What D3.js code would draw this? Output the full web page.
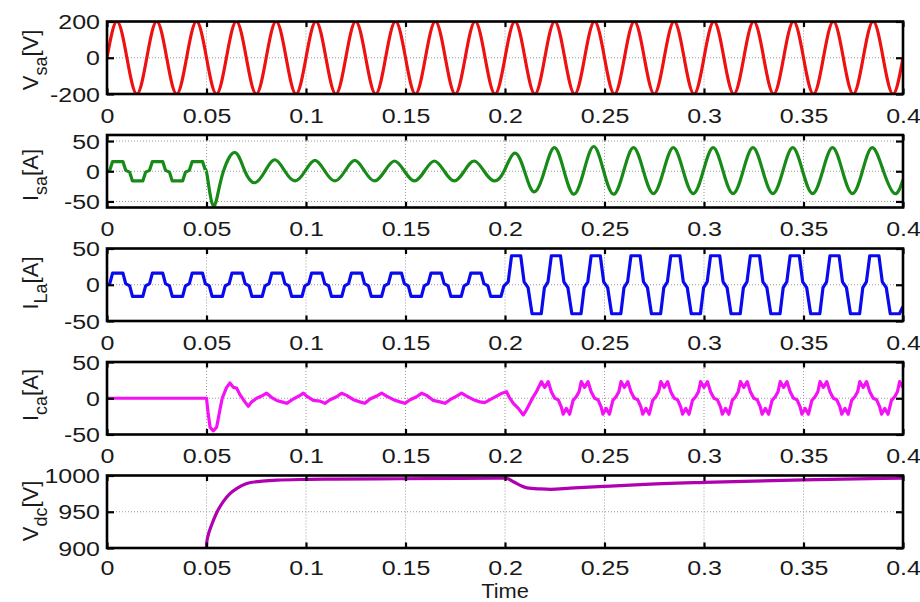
<!DOCTYPE html>
<html>

<head>
    <meta charset="utf-8">
    <style>
        body {
            margin: 0;
            background: #fff;
        }

        svg {
            display: block;
            font-family: Arial, 'Liberation Sans', Helvetica, sans-serif;
        }

        .tick text {
            font-family: Arial, 'Liberation Sans', Helvetica, sans-serif;
            font-size: 20px;
            fill: #1a1a1a;
        }

        .tick line {
            stroke: #000;
            stroke-width: 2.2;
        }

        .grid line {
            stroke: #9a9a9a;
            stroke-width: 1;
            stroke-dasharray: 1, 2;
        }

        .frame {
            fill: none;
            stroke: #000;
            stroke-width: 2.6;
        }

        .ylabel,
        .xlabel {
            font-size: 22px;
            fill: #1a1a1a;
        }

        .trace {
            fill: none;
            stroke-width: 3.2;
            stroke-linejoin: round;
        }
    </style>
</head>

<body>
    <svg width="920" height="602"></svg>

    <script src="https://d3js.org/d3.v7.min.js"></script>

    <script>
        // all times in ms
        let xTicks = [0, 0.05, 0.1, 0.15, 0.2, 0.25, 0.3, 0.35, 0.4];
        let xTickLabels = ["0", "0.05", "0.1", "0.15", "0.2", "0.25", "0.3", "0.35", "0.4"];

        let vsaRange = [-200, 200];
        let vsaTicks = [-200, 0, 200];
        let vsaTickLabels = ["-200", "0", "200"];

        let isaRange = [-60, 60];
        let isaTicks = [-50, 0, 50];
        let isaTickLabels = ["-50", "0", "50"];

        let ilaRange = [-50, 50];
        let ilaTicks = [-50, 0, 50];
        let ilaTickLabels = ["-50", "0", "50"];

        let icaRange = [-50, 50];
        let icaTicks = [-50, 0, 50];
        let icaTickLabels = ["-50", "0", "50"];

        let vdcRange = [900, 1000];
        let vdcTicks = [900, 950, 1000];
        let vdcTickLabels = ["900", "950", "1000"];

        // source voltage: zero crossings and peaks
        let vsa = [[0, 0], [5, 200], [10, 0], [15, -200], [20, 0], [25, 200], [30, 0], [35, -200], [40, 0], [45, 200],
        [50, 0], [55, -200], [60, 0], [65, 200], [70, 0], [75, -200], [80, 0], [85, 200], [90, 0], [95, -200],
        [100, 0], [105, 200], [110, 0], [115, -200], [120, 0], [125, 200], [130, 0], [135, -200], [140, 0], [145, 200],
        [150, 0], [155, -200], [160, 0], [165, 200], [170, 0], [175, -200], [180, 0], [185, 200], [190, 0], [195, -200],
        [200, 0], [205, 200], [210, 0], [215, -200], [220, 0], [225, 200], [230, 0], [235, -200], [240, 0], [245, 200],
        [250, 0], [255, -200], [260, 0], [265, 200], [270, 0], [275, -200], [280, 0], [285, 200], [290, 0], [295, -200],
        [300, 0], [305, 200], [310, 0], [315, -200], [320, 0], [325, 200], [330, 0], [335, -200], [340, 0], [345, 200],
        [350, 0], [355, -200], [360, 0], [365, 200], [370, 0], [375, -200], [380, 0], [385, 200], [390, 0], [395, -200],
        [400, 0]];

        // source current before compensation (stepped, same as load)
        let isaStep = [[0, 0], [1.4, 1.5], [2.8, 16], [8, 16], [9.4, 1.5], [11.4, -1.5], [12.8, -16], [18, -16], [19.4, -1.5],
        [21.4, 1.5], [22.8, 16], [28, 16], [29.4, 1.5], [31.4, -1.5], [32.8, -16], [38, -16], [39.4, -1.5],
        [41.4, 1.5], [42.8, 16], [48, 16], [49.4, 2]];

        // source current after compensation: peaks and zero crossings
        let isaWave = [[49.4, 2], [50.2, -4], [51.8, -38], [53.4, -57], [55.2, -45], [58.5, 0], [64.3, 31], [69.3, 0],
        [74.4, -19], [79.4, 0], [84.4, 19], [89.4, 0], [94.5, -16], [99.5, 0], [104.5, 18], [109.5, 0],
        [114.5, -16], [119.5, 0], [124.5, 18], [129.5, 0], [134.5, -16], [139.5, 0], [144.5, 17], [149.5, 0],
        [154.5, -16], [159.5, 0], [164.5, 17], [169.5, 0], [174.5, -16], [179.5, 0], [184.5, 17], [189.5, 0],
        [194.5, -16], [199.5, 0], [204.8, 30], [209.8, 0], [214.6, -34], [219.8, 0], [224.8, 39], [229.7, 0],
        [234.6, -38], [239.6, 0], [244.6, 41], [249.6, 0], [254.6, -38], [259.6, 0], [264.6, 39], [269.6, 0],
        [274.6, -37], [279.6, 0], [284.6, 39], [289.6, 0], [294.6, -37], [299.6, 0], [304.6, 39], [309.6, 0],
        [314.6, -37], [319.6, 0], [324.6, 39], [329.6, 0], [334.6, -37], [339.6, 0], [344.6, 39], [349.6, 0],
        [354.6, -37], [359.6, 0], [364.6, 39], [369.6, 0], [374.6, -37], [379.6, 0], [384.6, 39], [390.2, 0],
        [395.8, -37], [400, -14]];

        // load current
        let ila = [[0, 0], [1.4, 1.5], [2.8, 16], [8, 16], [9.4, 1.5], [11.4, -1.5], [12.8, -16], [18, -16], [19.4, -1.5],
        [21.4, 1.5], [22.8, 16], [28, 16], [29.4, 1.5], [31.4, -1.5], [32.8, -16], [38, -16], [39.4, -1.5],
        [41.4, 1.5], [42.8, 16], [48, 16], [49.4, 1.5], [51.4, -1.5], [52.8, -16], [58, -16], [59.4, -1.5],
        [61.4, 1.5], [62.8, 16], [68, 16], [69.4, 1.5], [71.4, -1.5], [72.8, -16], [78, -16], [79.4, -1.5],
        [81.4, 1.5], [82.8, 16], [88, 16], [89.4, 1.5], [91.4, -1.5], [92.8, -16], [98, -16], [99.4, -1.5],
        [101.4, 1.5], [102.8, 16], [108, 16], [109.4, 1.5], [111.4, -1.5], [112.8, -16], [118, -16], [119.4, -1.5],
        [121.4, 1.5], [122.8, 16], [128, 16], [129.4, 1.5], [131.4, -1.5], [132.8, -16], [138, -16], [139.4, -1.5],
        [141.4, 1.5], [142.8, 16], [148, 16], [149.4, 1.5], [151.4, -1.5], [152.8, -16], [158, -16], [159.4, -1.5],
        [161.4, 1.5], [162.8, 16], [168, 16], [169.4, 1.5], [171.4, -1.5], [172.8, -16], [178, -16], [179.4, -1.5],
        [181.4, 1.5], [182.8, 16], [188, 16], [189.4, 1.5], [191.4, -1.5], [192.8, -16], [198, -16], [199.4, -2],
        [201.6, 4], [203.3, 40], [207.9, 40], [209.6, 4], [211.6, -4], [213.6, -40], [218.2, -40], [219.8, -4],
        [221.6, 4], [223.3, 40], [227.9, 40], [229.6, 4], [231.6, -4], [233.6, -40], [238.2, -40], [239.8, -4],
        [241.6, 4], [243.3, 40], [247.9, 40], [249.6, 4], [251.6, -4], [253.6, -40], [258.2, -40], [259.8, -4],
        [261.6, 4], [263.3, 40], [267.9, 40], [269.6, 4], [271.6, -4], [273.6, -40], [278.2, -40], [279.8, -4],
        [281.6, 4], [283.3, 40], [287.9, 40], [289.6, 4], [291.6, -4], [293.6, -40], [298.2, -40], [299.8, -4],
        [301.6, 4], [303.3, 40], [307.9, 40], [309.6, 4], [311.6, -4], [313.6, -40], [318.2, -40], [319.8, -4],
        [321.6, 4], [323.3, 40], [327.9, 40], [329.6, 4], [331.6, -4], [333.6, -40], [338.2, -40], [339.8, -4],
        [341.6, 4], [343.3, 40], [347.9, 40], [349.6, 4], [351.6, -4], [353.6, -40], [358.2, -40], [359.8, -4],
        [361.6, 4], [363.3, 40], [367.9, 40], [369.6, 4], [371.6, -4], [373.6, -40], [378.2, -40], [379.8, -4],
        [381.6, 4], [383.3, 40], [387.9, 40], [389.6, 4], [391.6, -4], [393.6, -40], [398.2, -40], [400, -30]];

        // compensating current
        let ica = [[0, 0], [50, 0], [50.8, -20], [51.8, -40], [53.4, -45], [55.1, -40], [56.8, -15], [57.9, 0],
        [60.1, 15], [61.8, 21], [63.5, 15], [65.1, 14], [66.8, 5], [69.3, -5], [71.0, -11], [72.7, -5],
        [75.2, 0], [77.7, 3], [80.2, 7], [82.8, 1], [85.3, -3], [87.8, -5], [90.3, -7], [93.6, -1],
        [97.0, 4], [98.7, 7], [100.3, 3], [103.7, -3], [107.0, -4], [109.5, -7], [112.1, -2], [115.4, 2],
        [117.9, 7], [120.4, 4], [123.8, -2], [127.1, -5], [129.6, -7], [132.2, -1], [135.5, 3], [138.0, 7],
        [140.5, 3], [143.9, -2], [147.2, -5], [149.7, -7], [152.3, -2], [155.6, 2], [158.1, 7], [160.6, 4],
        [164.0, -3], [167.3, -5], [169.8, -7], [172.4, -2], [175.7, 3], [178.2, 7], [180.7, 3], [184.1, -2],
        [187.4, -5], [189.8, -6], [192.5, -2], [195.8, 3], [198.5, 7], [200.8, 9], [202.0, 2], [204.2, -7],
        [206.7, -14], [209.2, -23], [210.8, -16], [212.5, -7], [214.2, 2], [215.8, 9], [218.3, 23], [220, 15], [221.7, 23],
        [223.3, 9], [225, 0], [226.7, -2], [228.3, -12], [229.2, -22], [230.8, -14], [232.5, -22], [234.2, -3], [235.8, 2], [237.2, 9], [238.3, 23], [240, 15], [241.7, 23],
        [243.3, 9], [245, 0], [246.7, -2], [248.3, -12], [249.2, -22], [250.8, -14], [252.5, -22], [254.2, -3], [255.8, 2], [257.2, 9], [258.3, 23], [260, 15], [261.7, 23],
        [263.3, 9], [265, 0], [266.7, -2], [268.3, -12], [269.2, -22], [270.8, -14], [272.5, -22], [274.2, -3], [275.8, 2], [277.2, 9], [278.3, 23], [280, 15], [281.7, 23],
        [283.3, 9], [285, 0], [286.7, -2], [288.3, -12], [289.2, -22], [290.8, -14], [292.5, -22], [294.2, -3], [295.8, 2], [297.2, 9], [298.3, 23], [300, 15], [301.7, 23],
        [303.3, 9], [305, 0], [306.7, -2], [308.3, -12], [309.2, -22], [310.8, -14], [312.5, -22], [314.2, -3], [315.8, 2], [317.2, 9], [318.3, 23], [320, 15], [321.7, 23],
        [323.3, 9], [325, 0], [326.7, -2], [328.3, -12], [329.2, -22], [330.8, -14], [332.5, -22], [334.2, -3], [335.8, 2], [337.2, 9], [338.3, 23], [340, 15], [341.7, 23],
        [343.3, 9], [345, 0], [346.7, -2], [348.3, -12], [349.2, -22], [350.8, -14], [352.5, -22], [354.2, -3], [355.8, 2], [357.2, 9], [358.3, 23], [360, 15], [361.7, 23],
        [363.3, 9], [365, 0], [366.7, -2], [368.3, -12], [369.2, -22], [370.8, -14], [372.5, -22], [374.2, -3], [375.8, 2], [377.2, 9], [378.3, 23], [380, 15], [381.7, 23],
        [383.3, 9], [385, 0], [386.7, -2], [388.3, -12], [389.2, -22], [390.8, -14], [392.5, -22], [394.2, -3], [395.8, 2], [397.2, 9], [398.3, 23], [400, 15]];

        // dc-link voltage
        let vdc = [[49.8, 890], [50.1, 907], [50.9, 918], [52.6, 932], [55.0, 948], [58.4, 964], [61.8, 975],
        [65.1, 982], [70.2, 989], [76.9, 992], [85.3, 993.5], [97, 994.5], [113.7, 995], [147, 995.5],
        [177, 996], [200, 996.4], [201.5, 995.5], [204.5, 991], [207.9, 986], [211, 983], [217.8, 981.5],
        [222.8, 981], [232.8, 982.5], [249.6, 985], [268, 987.5], [300, 990.5], [350, 994], [400, 996.5]];

        let panels = [
            { name: "V", sub: "sa", unit: "[V]", range: vsaRange, ticks: vsaTicks, labels: vsaTickLabels, color: "#ee1111",
              series: [{ data: vsa, curve: d3.curveNatural }] },
            { name: "I", sub: "sa", unit: "[A]", range: isaRange, ticks: isaTicks, labels: isaTickLabels, color: "#178a17",
              series: [{ data: isaStep, curve: d3.curveLinear }, { data: isaWave, curve: d3.curveNatural }] },
            { name: "I", sub: "La", unit: "[A]", range: ilaRange, ticks: ilaTicks, labels: ilaTickLabels, color: "#0a0aee",
              series: [{ data: ila, curve: d3.curveLinear }] },
            { name: "I", sub: "ca", unit: "[A]", range: icaRange, ticks: icaTicks, labels: icaTickLabels, color: "#f511f5",
              series: [{ data: ica, curve: d3.curveLinear }] },
            { name: "V", sub: "dc", unit: "[V]", range: vdcRange, ticks: vdcTicks, labels: vdcTickLabels, color: "#b000b0",
              series: [{ data: vdc, curve: d3.curveMonotoneX }] }
        ];

        let left = 107, right = 903;
        let panelTop = [21.5, 135, 248.5, 362, 475.5];
        let panelH = 72.5;
        let labelMid = [60, 175, 283, 395, 511];
        // the last panel's labels sit a little higher so "Time" fits below
        let xLabelDrop = [29, 29, 29, 29, 27.5];

        let svg = d3.select("svg");

        let x = d3.scaleLinear()
            .domain([0, 0.4])
            .range([left, right]);

        panels.forEach(function (p, i) {
            let top = panelTop[i];
            let y = d3.scaleLinear()
                .domain(p.range)
                .range([top + panelH, top]);

            let g = svg.append("g").attr("class", "panel");

            svg.append("clipPath")
                .attr("id", "clip" + i)
                .append("rect")
                .attr("x", left)
                .attr("y", top)
                .attr("width", right - left)
                .attr("height", panelH);

            // dotted grid
            g.append("g").attr("class", "grid")
                .selectAll("line")
                .data(xTicks.slice(1, -1))
                .join("line")
                .attr("x1", d => x(d)).attr("x2", d => x(d))
                .attr("y1", top).attr("y2", top + panelH);

            g.append("g").attr("class", "grid")
                .selectAll("line")
                .data(p.ticks.filter(v => v > p.range[0] && v < p.range[1]))
                .join("line")
                .attr("x1", left).attr("x2", right)
                .attr("y1", d => y(d)).attr("y2", d => y(d));

            p.series.forEach(function (s) {
                let line = d3.line()
                    .x(d => x(d[0] / 1000))
                    .y(d => y(d[1]))
                    .curve(s.curve);
                g.append("path")
                    .attr("class", "trace")
                    .attr("clip-path", "url(#clip" + i + ")")
                    .attr("stroke", p.color)
                    .attr("d", line(s.data));
            });

            g.append("rect")
                .attr("class", "frame")
                .attr("x", left)
                .attr("y", top)
                .attr("width", right - left)
                .attr("height", panelH);

            // ticks point inwards, like matlab
            g.append("g")
                .attr("class", "x axis")
                .attr("transform", `translate(0,${top + panelH})`)
                .call(d3.axisBottom(x).tickValues(xTicks).tickSize(-5.5).tickFormat((d, k) => xTickLabels[k]))
                .call(a => a.select(".domain").remove())
                .call(a => a.selectAll("text")
                    .attr("y", xLabelDrop[i])
                    .attr("dy", null)
                    .attr("transform", "scale(1.25,1)"));

            g.append("g")
                .attr("class", "x axis")
                .attr("transform", `translate(0,${top})`)
                .call(d3.axisTop(x).tickValues(xTicks).tickSize(-5.5).tickFormat(""))
                .call(a => a.select(".domain").remove());

            g.append("g")
                .attr("class", "y axis")
                .attr("transform", `translate(${left},0)`)
                .call(d3.axisLeft(y).tickValues(p.ticks).tickSize(-7).tickFormat((d, k) => p.labels[k]))
                .call(a => a.select(".domain").remove())
                .call(a => a.selectAll("text")
                    .attr("x", -5.6)
                    .attr("dy", "0.35em")
                    .attr("transform", "scale(1.25,1)"));

            g.append("g")
                .attr("class", "y axis")
                .attr("transform", `translate(${right},0)`)
                .call(d3.axisRight(y).tickValues(p.ticks).tickSize(-7).tickFormat(""))
                .call(a => a.select(".domain").remove());

            let lab = svg.append("text")
                .attr("class", "ylabel")
                .attr("text-anchor", "middle")
                .attr("transform", `translate(37.5,${labelMid[i]}) rotate(-90)`);
            lab.append("tspan").text(p.name);
            lab.append("tspan").attr("font-size", 18).attr("dy", 9).text(p.sub);
            lab.append("tspan").attr("dy", -9).text(p.unit);
        });

        svg.append("text")
            .attr("class", "xlabel")
            .attr("text-anchor", "middle")
            .attr("transform", "translate(505,597.5) scale(1.12,1)")
            .style("font-size", "19.5px")
            .text("Time");
    </script>
</body>

</html>
